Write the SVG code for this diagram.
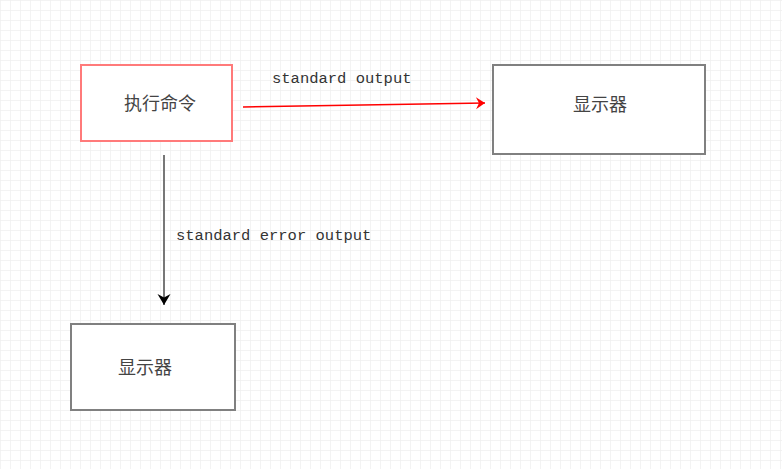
<svg xmlns="http://www.w3.org/2000/svg" width="782" height="469" viewBox="0 0 782 469">
<style>
.box{fill:#fff;stroke-width:2}
.cjk{font-family:"Noto Sans CJK SC","Noto Sans",sans-serif;font-size:18px;fill:#444}
.mono{font-family:"Liberation Mono","DejaVu Sans Mono",monospace;font-size:15.5px;fill:#333}
</style>
<defs>
<pattern id="grid" width="10" height="10" patternUnits="userSpaceOnUse" x="1" y="1">
<path d="M10 0V10M0 10H10" stroke="#f0f0f0" stroke-width="1.6" fill="none"/>
</pattern>
<marker id="arrRed" markerWidth="14" markerHeight="14" refX="11" refY="7" orient="auto" markerUnits="userSpaceOnUse">
<path d="M2 1L11 7L2 13L5 7Z" fill="#ff0000"/>
</marker>
<marker id="arrBlack" markerWidth="16" markerHeight="16" refX="13" refY="8" orient="auto" markerUnits="userSpaceOnUse">
<path d="M2 1.5L13 8L2 14.5L5.5 8Z" fill="#000"/>
</marker>
</defs>
<rect width="782" height="469" fill="#fff"/>
<rect width="782" height="469" fill="url(#grid)"/>
<g id="connectors">
<path d="M243 107L485 103" stroke="#ff0000" stroke-width="1.5" fill="none" marker-end="url(#arrRed)"/>
<path d="M164 155V305" stroke="#777" stroke-width="2" fill="none" marker-end="url(#arrBlack)"/>
<text class="mono" x="272" y="83">standard output</text>
<text class="mono" x="176" y="240">standard error output</text>
</g>
<g id="cmd">
<rect class="box" x="81" y="65" width="151" height="76" stroke="#ff7a7a"/>
<text class="cjk" x="160" y="110" text-anchor="middle">执行命令</text>
</g>
<g id="display1">
<rect class="box" x="493" y="65" width="212" height="89" stroke="#808080"/>
<text class="cjk" x="600" y="111" text-anchor="middle">显示器</text>
</g>
<g id="display2">
<rect class="box" x="71" y="324" width="164" height="86" stroke="#808080"/>
<text class="cjk" x="145" y="374" text-anchor="middle">显示器</text>
</g>
</svg>
